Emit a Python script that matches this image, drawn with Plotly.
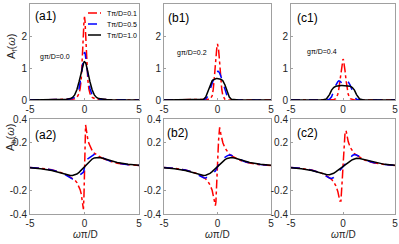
import plotly.graph_objects as go

# ---------------- data ----------------
OMEGA = [-5, -4, -3, -2.5, -2, -1.6, -1.3, -1.1, -0.9, -0.7, -0.5, -0.4, -0.3, -0.2, -0.15, -0.1, -0.05,
         0,
         0.05, 0.1, 0.15, 0.2, 0.3, 0.4, 0.5, 0.7, 0.9, 1.1, 1.3, 1.6, 2, 2.5, 3, 4, 5]

# A_f(omega), top row
A1_RED = [0.001, 0.002, 0.004, 0.005, 0.008, 0.012, 0.018, 0.025, 0.04, 0.08, 0.2, 0.35, 0.65, 1.2, 1.6, 2.05, 2.45,
          2.6,
          2.45, 2.05, 1.6, 1.2, 0.65, 0.35, 0.2, 0.08, 0.04, 0.025, 0.018, 0.012, 0.008, 0.005, 0.004, 0.002, 0.001]
A1_BLUE = [0.002, 0.003, 0.005, 0.008, 0.012, 0.02, 0.03, 0.045, 0.08, 0.16, 0.36, 0.55, 0.8, 1.1, 1.25, 1.38, 1.47,
           1.5,
           1.47, 1.38, 1.25, 1.1, 0.8, 0.55, 0.36, 0.16, 0.08, 0.045, 0.03, 0.02, 0.012, 0.008, 0.005, 0.003, 0.002]
A1_BLACK = [0.002, 0.003, 0.005, 0.008, 0.014, 0.025, 0.045, 0.08, 0.16, 0.32, 0.57, 0.73, 0.9, 1.05, 1.11, 1.16, 1.19,
            1.2,
            1.19, 1.16, 1.11, 1.05, 0.9, 0.73, 0.57, 0.32, 0.16, 0.08, 0.045, 0.025, 0.014, 0.008, 0.005, 0.003, 0.002]

B1_RED = [0, 0, 0, 0, 0, 0, 0, 0, 0.004, 0.02, 0.13, 0.33, 0.68, 1.15, 1.38, 1.58, 1.7,
          1.75,
          1.7, 1.58, 1.38, 1.15, 0.68, 0.33, 0.13, 0.02, 0.004, 0, 0, 0, 0, 0, 0, 0, 0]
B1_BLUE = [0, 0, 0, 0, 0, 0.003, 0.01, 0.035, 0.12, 0.32, 0.55, 0.66, 0.76, 0.84, 0.87, 0.89, 0.9,
           0.9,
           0.9, 0.89, 0.87, 0.84, 0.76, 0.66, 0.55, 0.32, 0.12, 0.035, 0.01, 0.003, 0, 0, 0, 0, 0]
B1_BLACK = [0, 0, 0, 0, 0, 0.003, 0.02, 0.09, 0.27, 0.47, 0.6, 0.63, 0.65, 0.66, 0.665, 0.67, 0.67,
            0.67,
            0.67, 0.67, 0.665, 0.66, 0.65, 0.63, 0.6, 0.47, 0.27, 0.09, 0.02, 0.003, 0, 0, 0, 0, 0]

C1_RED = [0, 0, 0, 0, 0, 0, 0, 0, 0.008, 0.04, 0.18, 0.35, 0.6, 0.9, 1.05, 1.17, 1.25,
          1.28,
          1.25, 1.17, 1.05, 0.9, 0.6, 0.35, 0.18, 0.04, 0.008, 0, 0, 0, 0, 0, 0, 0, 0]
C1_BLUE = [0, 0, 0, 0, 0, 0.004, 0.025, 0.1, 0.27, 0.46, 0.57, 0.6, 0.59, 0.56, 0.54, 0.51, 0.49,
           0.48,
           0.49, 0.51, 0.54, 0.56, 0.59, 0.6, 0.57, 0.46, 0.27, 0.1, 0.025, 0.004, 0, 0, 0, 0, 0]
C1_BLACK = [0, 0, 0, 0, 0.003, 0.03, 0.17, 0.31, 0.39, 0.43, 0.445, 0.45, 0.45, 0.45, 0.45, 0.45, 0.45,
            0.45,
            0.45, 0.45, 0.45, 0.45, 0.45, 0.45, 0.445, 0.43, 0.39, 0.31, 0.17, 0.03, 0.003, 0, 0, 0, 0]

# A_b(omega), bottom row
A2_RED = [-0.009, -0.015, -0.028, -0.039, -0.055, -0.072, -0.087, -0.097, -0.113, -0.135, -0.17, -0.195, -0.23, -0.28, -0.32, -0.36, -0.25,
          0,
          0.25, 0.35, 0.32, 0.28, 0.23, 0.195, 0.17, 0.135, 0.113, 0.097, 0.087, 0.072, 0.055, 0.039, 0.028, 0.015, 0.009]
A2_BLUE = [-0.009, -0.015, -0.029, -0.04, -0.058, -0.078, -0.095, -0.105, -0.105, -0.09, -0.074, -0.068, -0.063, -0.058, -0.055, -0.048, -0.03,
           0,
           0.03, 0.048, 0.055, 0.058, 0.063, 0.068, 0.074, 0.09, 0.103, 0.102, 0.093, 0.077, 0.058, 0.04, 0.029, 0.015, 0.009]
A2_BLACK = [-0.01, -0.018, -0.033, -0.045, -0.06, -0.071, -0.076, -0.076, -0.072, -0.063, -0.049, -0.04, -0.03, -0.02, -0.015, -0.01, -0.005,
            0,
            0.005, 0.01, 0.015, 0.02, 0.03, 0.04, 0.049, 0.063, 0.072, 0.076, 0.076, 0.071, 0.06, 0.045, 0.033, 0.018, 0.01]

B2_RED = [-0.009, -0.015, -0.029, -0.04, -0.057, -0.075, -0.092, -0.105, -0.125, -0.155, -0.2, -0.235, -0.28, -0.33, -0.3, -0.22, -0.12,
          0,
          0.12, 0.22, 0.3, 0.33, 0.28, 0.235, 0.2, 0.155, 0.125, 0.105, 0.092, 0.075, 0.057, 0.04, 0.029, 0.015, 0.009]
B2_BLUE = [-0.009, -0.016, -0.03, -0.042, -0.062, -0.082, -0.095, -0.096, -0.09, -0.078, -0.065, -0.058, -0.05, -0.038, -0.03, -0.02, -0.01,
           0,
           0.01, 0.02, 0.03, 0.038, 0.05, 0.058, 0.065, 0.078, 0.09, 0.096, 0.095, 0.082, 0.062, 0.042, 0.03, 0.016, 0.009]
B2_BLACK = [-0.01, -0.018, -0.034, -0.046, -0.061, -0.071, -0.075, -0.074, -0.068, -0.058, -0.043, -0.034, -0.025, -0.017, -0.012, -0.008, -0.004,
            0,
            0.004, 0.008, 0.012, 0.017, 0.025, 0.034, 0.043, 0.058, 0.068, 0.074, 0.075, 0.071, 0.061, 0.046, 0.034, 0.018, 0.01]

C2_RED = [-0.009, -0.016, -0.03, -0.041, -0.058, -0.078, -0.095, -0.108, -0.13, -0.16, -0.21, -0.25, -0.29, -0.29, -0.24, -0.16, -0.08,
          0,
          0.08, 0.16, 0.24, 0.29, 0.3, 0.25, 0.21, 0.16, 0.13, 0.108, 0.095, 0.078, 0.058, 0.041, 0.03, 0.016, 0.009]
C2_BLUE = [-0.009, -0.016, -0.031, -0.044, -0.064, -0.085, -0.097, -0.1, -0.093, -0.076, -0.055, -0.045, -0.035, -0.024, -0.018, -0.012, -0.006,
           0,
           0.006, 0.012, 0.018, 0.024, 0.035, 0.045, 0.055, 0.076, 0.093, 0.1, 0.097, 0.085, 0.064, 0.044, 0.031, 0.016, 0.009]
C2_BLACK = [-0.01, -0.018, -0.034, -0.046, -0.06, -0.068, -0.069, -0.065, -0.057, -0.046, -0.032, -0.025, -0.018, -0.012, -0.009, -0.006, -0.003,
            0,
            0.003, 0.006, 0.009, 0.012, 0.018, 0.025, 0.032, 0.046, 0.057, 0.065, 0.069, 0.068, 0.06, 0.046, 0.034, 0.018, 0.01]

SERIES_NAMES = ["Tπ/D=0.1", "Tπ/D=0.5", "Tπ/D=1.0"]
PANEL_LABELS = ["(a1)", "(b1)", "(c1)", "(a2)", "(b2)", "(c2)"]
G_LABELS = ["gπ/D=0.0", "gπ/D=0.2", "gπ/D=0.4"]
X_TICKS = [-5, 0, 5]
X_TICKTEXT = ["-5", "0", "5"]
YF_TICKS = [0, 1, 2, 3]
YF_TICKTEXT = ["0", "1", "2", "3"]
YB_TICKS = [-0.4, -0.2, 0.2, 0.4]
YB_TICKTEXT = ["-0.4", "-0.2", "0.2", "0.4"]

PANELS = [
    [A1_RED, A1_BLUE, A1_BLACK],
    [B1_RED, B1_BLUE, B1_BLACK],
    [C1_RED, C1_BLUE, C1_BLACK],
    [A2_RED, A2_BLUE, A2_BLACK],
    [B2_RED, B2_BLUE, B2_BLACK],
    [C2_RED, C2_BLUE, C2_BLACK],
]

# ---------------- styling ----------------
W, H = 399, 244
FONT = "Liberation Sans, Arial, sans-serif"
COLORS = ["#ff0000", "#0000ff", "#000000"]
DASHES = ["dashdot", "dash", "solid"]
AXCOL = "#a0a0a0"
TXT = "#262626"


def px(x):
    return x / W


def py(y):
    return 1 - y / H


XDOM = [[px(30), px(139)], [px(164), px(271)], [px(291), px(395)]]
YDOM_TOP = [py(100), py(4)]
YDOM_BOT = [py(214), py(119)]

fig = go.Figure()

for i, series in enumerate(PANELS):
    n = i + 1
    xa = "x" if n == 1 else f"x{n}"
    ya = "y" if n == 1 else f"y{n}"
    for k, vals in enumerate(series):
        fig.add_trace(go.Scatter(
            x=OMEGA, y=vals, mode="lines", name=SERIES_NAMES[k],
            line=dict(color=COLORS[k], dash=DASHES[k], width=1.5),
            xaxis=xa, yaxis=ya, showlegend=False,
        ))

layout = dict(
    width=W, height=H, margin=dict(l=0, r=0, t=0, b=0),
    paper_bgcolor="white", plot_bgcolor="white",
    font=dict(family=FONT, size=10, color=TXT),
    showlegend=False,
)

for i in range(6):
    n = i + 1
    col = i % 3
    top = i < 3
    xkey = "xaxis" if n == 1 else f"xaxis{n}"
    ykey = "yaxis" if n == 1 else f"yaxis{n}"
    ya = "y" if n == 1 else f"y{n}"
    xa = "x" if n == 1 else f"x{n}"
    common = dict(showline=True, mirror=True, linecolor=AXCOL, linewidth=1,
                  ticks="inside", ticklen=2, tickcolor=AXCOL,
                  showgrid=False, zeroline=False, automargin=False,
                  tickfont=dict(family=FONT, size=10, color=TXT))
    layout[xkey] = dict(domain=XDOM[col], anchor=ya, range=[-5, 5],
                        tickmode="array", tickvals=X_TICKS, ticktext=X_TICKTEXT, **common)
    if top:
        layout[ykey] = dict(domain=YDOM_TOP, anchor=xa, range=[0, 3],
                            tickmode="array", tickvals=YF_TICKS, ticktext=YF_TICKTEXT, **common)
    else:
        layout[ykey] = dict(domain=YDOM_BOT, anchor=xa, range=[-0.4, 0.4],
                            tickmode="array", tickvals=YB_TICKS, ticktext=YB_TICKTEXT, **common)

fig.update_layout(**layout)

annotations = []
# panel labels
LABEL_POS = [(33, 16), (166, 18), (295, 18), (33, 135), (165, 133), (295, 133)]
for lab, (x, y) in zip(PANEL_LABELS, LABEL_POS):
    annotations.append(dict(text=lab, x=px(x), y=py(y), xref="paper", yref="paper",
                            xanchor="left", yanchor="middle", showarrow=False,
                            font=dict(family=FONT, size=12, color="#000000")))
# g labels
G_POS = [(38, 57), (175, 53), (305, 52)]
for lab, (x, y) in zip(G_LABELS, G_POS):
    annotations.append(dict(text=lab, x=px(x), y=py(y), xref="paper", yref="paper",
                            xanchor="left", yanchor="middle", showarrow=False,
                            font=dict(family=FONT, size=7, color="#000000")))
# y titles
annotations.append(dict(text="A<sub>f</sub>(<i>ω</i>)", x=px(12), y=py(47), xref="paper", yref="paper",
                        xanchor="center", yanchor="middle", textangle=-90, showarrow=False,
                        font=dict(family=FONT, size=11, color=TXT)))
annotations.append(dict(text="A<sub>b</sub>(<i>ω</i>)", x=px(11), y=py(137), xref="paper", yref="paper",
                        xanchor="center", yanchor="middle", textangle=-90, showarrow=False,
                        font=dict(family=FONT, size=11, color=TXT)))
# x titles
for cx in [85, 217, 343]:
    annotations.append(dict(text="<i>ω</i>π/D", x=px(cx), y=py(234), xref="paper", yref="paper",
                            xanchor="center", yanchor="middle", showarrow=False,
                            font=dict(family=FONT, size=10, color=TXT)))

# manual legend in panel (a1)
shapes = []
LEG_ROWS = [13, 24, 35]
for k, yrow in enumerate(LEG_ROWS):
    shapes.append(dict(type="line", xref="paper", yref="paper",
                       x0=px(88), x1=px(101), y0=py(yrow), y1=py(yrow),
                       line=dict(color=COLORS[k], dash=DASHES[k], width=1.5)))
    annotations.append(dict(text=SERIES_NAMES[k], x=px(105), y=py(yrow), xref="paper", yref="paper",
                            xanchor="left", yanchor="middle", showarrow=False,
                            font=dict(family=FONT, size=7, color="#000000")))

fig.update_layout(annotations=annotations, shapes=shapes)

fig.write_html(
    "out.html",
    config={"displayModeBar": False},
    post_script="document.body.style.margin='0px';document.body.style.padding='0px';"
                "document.documentElement.style.overflow='hidden';",
)
